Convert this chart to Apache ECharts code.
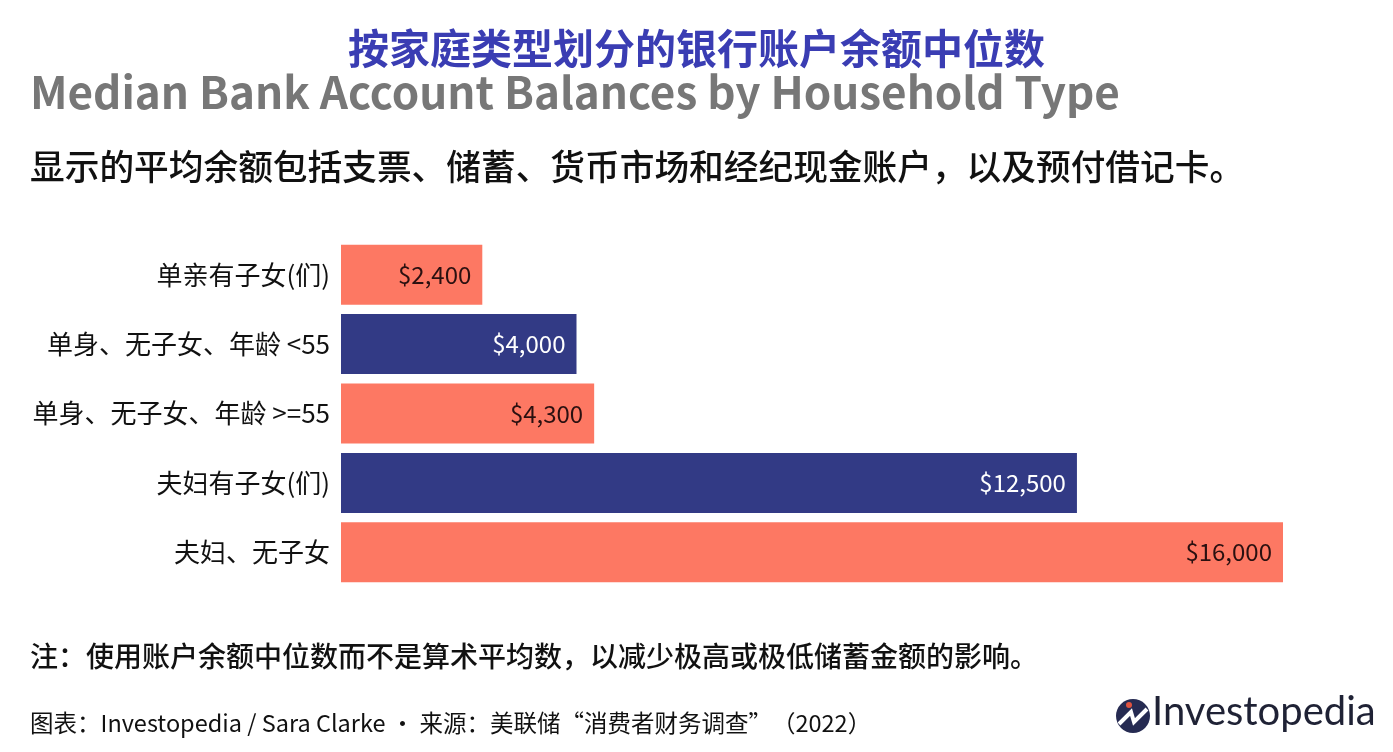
<!DOCTYPE html>
<html>
<head>
<meta charset="utf-8">
<title>按家庭类型划分的银行账户余额中位数</title>
<script src="https://cdn.jsdelivr.net/npm/echarts@6/dist/echarts.min.js"></script>
<style>
    html, body { margin: 0; padding: 0; background: #fff; }
    #chart { width: 1393px; height: 752px; }
</style>
</head>
<body>
<div id="chart"></div>
<script>
var categories = ['单亲有子女(们)', '单身、无子女、年龄 <55', '单身、无子女、年龄 >=55', '夫妇有子女(们)', '夫妇、无子女'];
var balances = [2400, 4000, 4300, 12500, 16000];

var barColors = ['#fd7863', '#323a85', '#fd7863', '#323a85', '#fd7863'];
var labelColors = ['#2a1010', '#ffffff', '#2a1010', '#ffffff', '#2a1010'];

var font = '"Noto Sans CJK SC", "Noto Sans", sans-serif';

var barData = [];
for (var i = 0; i < balances.length; i++) {
    barData.push({
        value: balances[i],
        itemStyle: { color: barColors[i] },
        label: { color: labelColors[i] }
    });
}

var option = {
    backgroundColor: '#ffffff',
    animation: false,
    textStyle: { fontFamily: font },
    title: [{
        text: '按家庭类型划分的银行账户余额中位数',
        left: 'center',
        top: 23,
        textStyle: { fontFamily: font, fontSize: 41, fontWeight: 'bold', color: '#3a3db3' }
    }, {
        text: 'Median Bank Account Balances by Household Type',
        left: 25,
        top: 65,
        textStyle: { fontFamily: font, fontSize: 44, fontWeight: 'bold', color: '#777777' }
    }, {
        text: '显示的平均余额包括支票、储蓄、货币市场和经纪现金账户，以及预付借记卡。',
        left: 25,
        top: 144,
        textStyle: { fontFamily: font, fontSize: 34.7, fontWeight: 500, color: '#111111' }
    }, {
        text: '注：使用账户余额中位数而不是算术平均数，以减少极高或极低储蓄金额的影响。',
        left: 25,
        top: 637,
        textStyle: { fontFamily: font, fontSize: 28, fontWeight: 500, color: '#111111' }
    }, {
        text: '图表：Investopedia / Sara Clarke • 来源：美联储“消费者财务调查”（2022）',
        left: 25,
        top: 706,
        textStyle: { fontFamily: font, fontSize: 23.5, fontWeight: 'normal', color: '#111111' }
    }],
    grid: {
        left: 341,
        right: 110,
        top: 240,
        bottom: 165
    },
    xAxis: {
        type: 'value',
        min: 0,
        max: 16000,
        show: false
    },
    yAxis: {
        type: 'category',
        inverse: true,
        data: categories,
        axisLine: { show: false },
        axisTick: { show: false },
        axisLabel: {
            margin: 11,
            fontFamily: font,
            fontSize: 26,
            color: '#111111'
        }
    },
    series: [{
        type: 'bar',
        barWidth: 60,
        data: barData,
        label: {
            show: true,
            position: 'insideRight',
            distance: 11,
            fontFamily: font,
            fontSize: 24,
            formatter: function (p) {
                return '$' + p.value.toLocaleString('en-US');
            }
        }
    }],
    graphic: [{
        type: 'circle',
        shape: { cx: 1133, cy: 716, r: 17 },
        style: { fill: '#262b52' }
    }, {
        type: 'polyline',
        shape: { points: [[1119, 724], [1131, 712], [1134, 722], [1147, 709]] },
        style: { stroke: '#ffffff', lineWidth: 4, fill: null }
    }, {
        type: 'circle',
        shape: { cx: 1129, cy: 705, r: 3 },
        style: { fill: '#e0533f' }
    }, {
        type: 'text',
        left: 1152,
        top: 692,
        style: {
            text: 'Investopedia',
            fontFamily: 'Lato, "Noto Sans", sans-serif',
            fontSize: 40,
            fill: '#1f2235'
        }
    }]
};

var myChart = echarts.init(document.getElementById('chart'));
myChart.setOption(option);
</script>
</body>
</html>
